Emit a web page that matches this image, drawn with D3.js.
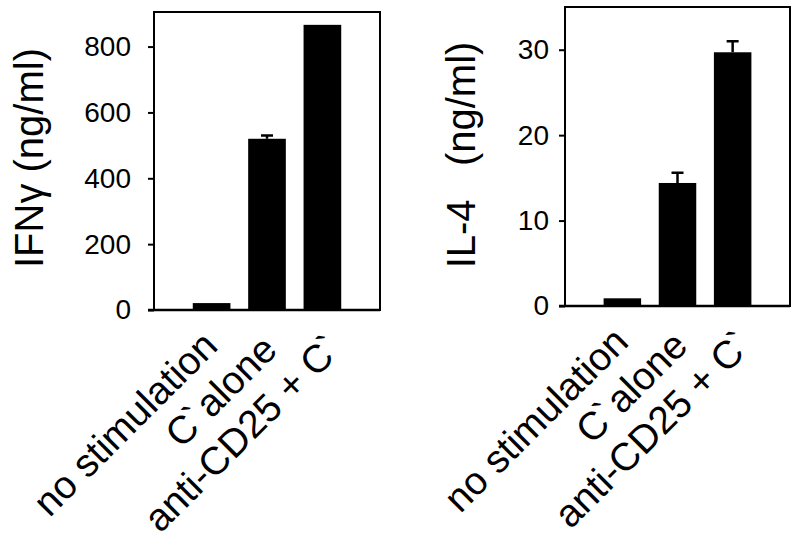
<!DOCTYPE html>
<html>
<head>
<meta charset="utf-8">
<script src="https://cdn.jsdelivr.net/npm/d3@7"></script>
<style>
  body { margin: 0; background: #fff; }
  text { font-family: "Liberation Sans", Arial, sans-serif; fill: #000; }
</style>
</head>
<body>
<script>
// data
var categories = ["no stimulation", "C` alone", "anti-CD25 + C`"];
var ifngValues = [21, 520, 866];
var ifngErrors = [0, 10, 0];
var ifngTicks = [0, 200, 400, 600, 800];
var il4Values = [0.9, 14.4, 29.7];
var il4Errors = [0, 1.2, 1.3];
var il4Ticks = [0, 10, 20, 30];

var svg = d3.select("body").append("svg")
    .attr("width", 800)
    .attr("height", 547);

// panel boxes
var panels = [
  {left: 154, right: 380, top: 12, bottom: 310, max: 905, values: ifngValues, errors: ifngErrors,
   ticks: ifngTicks, pad: 17, title: "IFN\u03b3 (ng/ml)", titleX: 43, titleY: 158},
  {left: 565, right: 790, top: 7, bottom: 306, max: 35, values: il4Values, errors: il4Errors,
   ticks: il4Ticks, pad: 10, title: "IL-4\u00a0\u00a0\u00a0(ng/ml)", titleX: 475, titleY: 155}
];

panels.forEach(function(p) {
  var x = d3.scaleBand()
      .domain(categories)
      .range([p.left, p.right])
      .paddingInner(0.32)
      .paddingOuter(0.7);

  var y = d3.scaleLinear()
      .domain([0, p.max])
      .range([p.bottom, p.top]);

  var g = svg.append("g");

  // frame
  g.append("rect")
      .attr("x", p.left)
      .attr("y", p.top)
      .attr("width", p.right - p.left)
      .attr("height", p.bottom - p.top)
      .attr("fill", "none")
      .attr("stroke", "#000")
      .attr("stroke-width", 2);

  // error bars (only upper whisker)
  g.selectAll(".err")
      .data(p.values)
      .enter().append("path")
      .attr("class", "err")
      .attr("fill", "none")
      .attr("stroke", "#000")
      .attr("stroke-width", 2.5)
      .attr("d", function(d, i) {
        if (!p.errors[i]) return null;
        var cx = x(categories[i]) + x.bandwidth() / 2;
        var yt = y(d + p.errors[i]);
        return "M" + cx + "," + y(d) + "V" + yt + "M" + (cx - 6) + "," + yt + "H" + (cx + 6);
      });

  // bars
  g.selectAll(".bar")
      .data(p.values)
      .enter().append("rect")
      .attr("class", "bar")
      .attr("x", function(d, i) { return x(categories[i]); })
      .attr("width", x.bandwidth())
      .attr("y", function(d) { return y(d); })
      .attr("height", function(d) { return p.bottom - y(d) + 1; })
      .attr("fill", "#000");

  // y axis
  var yAxis = g.append("g")
      .attr("transform", "translate(" + p.left + ",0)")
      .call(d3.axisLeft(y).tickValues(p.ticks).tickSize(6).tickPadding(p.pad));
  yAxis.select(".domain").remove();
  yAxis.selectAll(".tick line").attr("stroke-width", 2);
  yAxis.selectAll(".tick text")
      .style("font-family", "'Liberation Sans', Arial, sans-serif")
      .style("font-size", "28px");

  // bottom line extends past the frame
  g.append("line")
      .attr("x1", p.left - 6)
      .attr("x2", p.right)
      .attr("y1", p.bottom)
      .attr("y2", p.bottom)
      .attr("stroke", "#000")
      .attr("stroke-width", 2.5);

  // category labels, rotated; lines spaced a little wider than the bars
  var labels = g.selectAll(".cat")
      .data(categories)
      .enter().append("text")
      .attr("class", "cat")
      .attr("transform", function(d, i) {
        var s = 4 * i;
        return "translate(" + (x(d) + x.bandwidth() / 2 + 8 + s) + "," + (p.bottom + 38 + s) + ") rotate(-45)";
      })
      .attr("text-anchor", "end")
      .style("font-size", "39px");

  // the prime mark sits tight against the C
  labels.each(function(d) {
    var t = d3.select(this);
    var parts = d.split("`");
    t.append("tspan").text(parts[0]);
    for (var k = 1; k < parts.length; k++) {
      t.append("tspan")
          .attr("dx", "-0.06em")
          .style("letter-spacing", "-0.18em")
          .text("`");
      if (parts[k]) t.append("tspan").text(parts[k]);
    }
  });

  // y title
  g.append("text")
      .attr("transform", "translate(" + p.titleX + "," + p.titleY + ") rotate(-90)")
      .attr("text-anchor", "middle")
      .style("font-size", "40px")
      .text(p.title);
});
</script>
</body>
</html>
